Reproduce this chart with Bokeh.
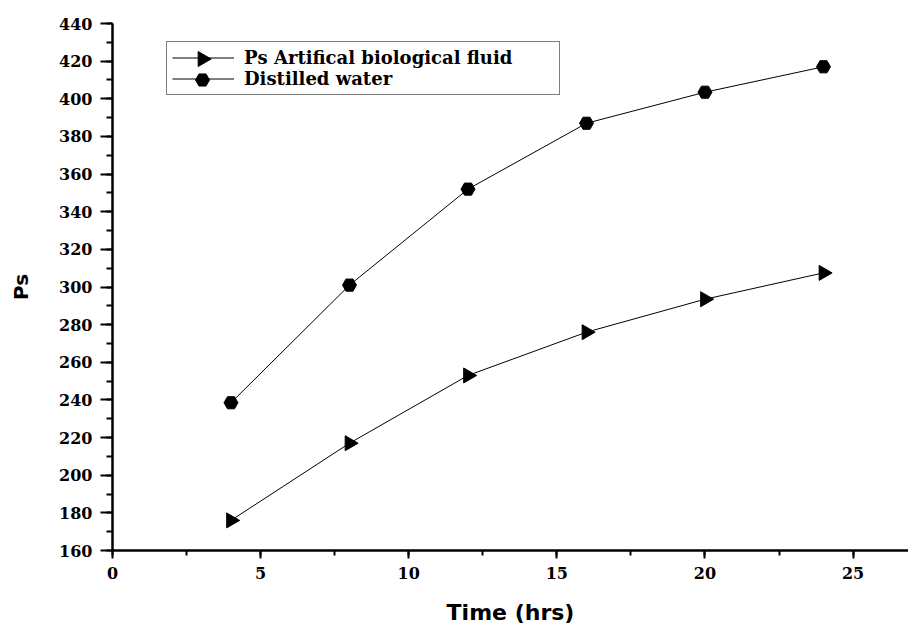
import numpy as np
from bokeh.plotting import figure
from bokeh.models import SingleIntervalTicker, Range1d, Legend, LegendItem
from bokeh.embed import file_html
from bokeh.resources import INLINE

# ---- data ----
time_hrs = [4, 8, 12, 16, 20, 24]
ps_artificial = [176, 217, 253, 276, 293.5, 307.5]
ps_distilled = [238.5, 301, 352, 387, 403.5, 417]
series_labels = ["Ps Artifical biological fluid", "Distilled water"]
x_label = "Time (hrs)"
y_label = "Ps"

TICK_FONT = "DejaVu Serif"
LABEL_FONT = "DejaVu Sans"

FRAME_W, FRAME_H = 796, 527
X_END = 26.87

p = figure(frame_width=FRAME_W, frame_height=FRAME_H,
           output_backend="svg", toolbar_location=None,
           x_range=Range1d(0, X_END), y_range=Range1d(160, 440),
           min_border_left=112, min_border_top=23, min_border_right=0,
           min_border_bottom=70)
p.outline_line_color = None
p.xgrid.visible = False
p.ygrid.visible = False
p.background_fill_color = "white"
p.border_fill_color = "white"

l1 = p.line(time_hrs, ps_artificial, line_color="black", line_width=1)
p.scatter(time_hrs, ps_artificial, marker="triangle", size=15, angle=-np.pi / 2,
          fill_color="black", line_color="black")
l2 = p.line(time_hrs, ps_distilled, line_color="black", line_width=1)
p.scatter(time_hrs, ps_distilled, marker="hex", size=14,
          fill_color="black", line_color="black")

# axes
p.xaxis.ticker = SingleIntervalTicker(interval=5, num_minor_ticks=2)
p.yaxis.ticker = SingleIntervalTicker(interval=20, num_minor_ticks=2)
for ax in (p.xaxis[0], p.yaxis[0]):
    ax.axis_line_width = 2.5
    ax.axis_line_color = "black"
    ax.major_tick_line_width = 2
    ax.minor_tick_line_width = 2
    ax.major_tick_line_color = "black"
    ax.minor_tick_line_color = "black"
    ax.major_tick_in = 0
    ax.minor_tick_in = 0
    ax.major_label_text_font = TICK_FONT
    ax.major_label_text_font_style = "bold"
    ax.major_label_text_font_size = "16px"
    ax.major_label_text_color = "black"
    ax.axis_label_text_font = LABEL_FONT
    ax.axis_label_text_font_style = "bold"
    ax.axis_label_text_color = "black"

p.xaxis.major_tick_out = 8
p.xaxis.minor_tick_out = 5
p.yaxis.major_tick_out = 12
p.yaxis.minor_tick_out = 6
p.xaxis.major_label_standoff = 8
p.yaxis.major_label_standoff = 8
p.xaxis.axis_label = x_label
p.yaxis.axis_label = y_label
p.xaxis.axis_label_text_font_size = "22px"
p.yaxis.axis_label_text_font_size = "20px"
p.xaxis.axis_label_standoff = 18
p.yaxis.axis_label_standoff = 23

# ---- legend (box, lines, labels by Bokeh; markers overlaid in pixel space) ----
LG_X, LG_Y = 54, 455          # legend box bottom-left, px from frame bottom-left
LG_PAD, LG_ROW, LG_SP, LG_GW = 5, 21, 0, 62
legend = Legend(items=[
    LegendItem(label=series_labels[0], renderers=[l1]),
    LegendItem(label=series_labels[1], renderers=[l2]),
], location=(LG_X, LG_Y))
legend.border_line_color = "black"
legend.border_line_width = 1
legend.background_fill_alpha = 0
legend.padding = LG_PAD
legend.spacing = LG_SP
legend.glyph_width = LG_GW
legend.glyph_height = LG_ROW
legend.label_height = LG_ROW
legend.label_width = 310
legend.label_standoff = 10
legend.label_text_font = TICK_FONT
legend.label_text_font_style = "bold"
legend.label_text_font_size = "18px"
legend.label_text_color = "black"
legend.margin = 0
p.add_layout(legend, "center")

# pixel ranges matching the frame, for the legend's marker symbols
p.extra_x_ranges = {"px": Range1d(0, FRAME_W)}
p.extra_y_ranges = {"px": Range1d(0, FRAME_H)}
box_h = 2 * LG_PAD + 2 * LG_ROW + LG_SP
gx = LG_X + LG_PAD + LG_GW / 2
row1_y = LG_Y + box_h - LG_PAD - LG_ROW / 2
row2_y = LG_Y + LG_PAD + LG_ROW / 2
p.scatter([gx], [row1_y], marker="triangle", size=15, angle=-np.pi / 2,
          fill_color="black", line_color="black",
          x_range_name="px", y_range_name="px")
p.scatter([gx], [row2_y], marker="hex", size=14,
          fill_color="black", line_color="black",
          x_range_name="px", y_range_name="px")

open("out.html", "w").write(file_html(p, INLINE))
